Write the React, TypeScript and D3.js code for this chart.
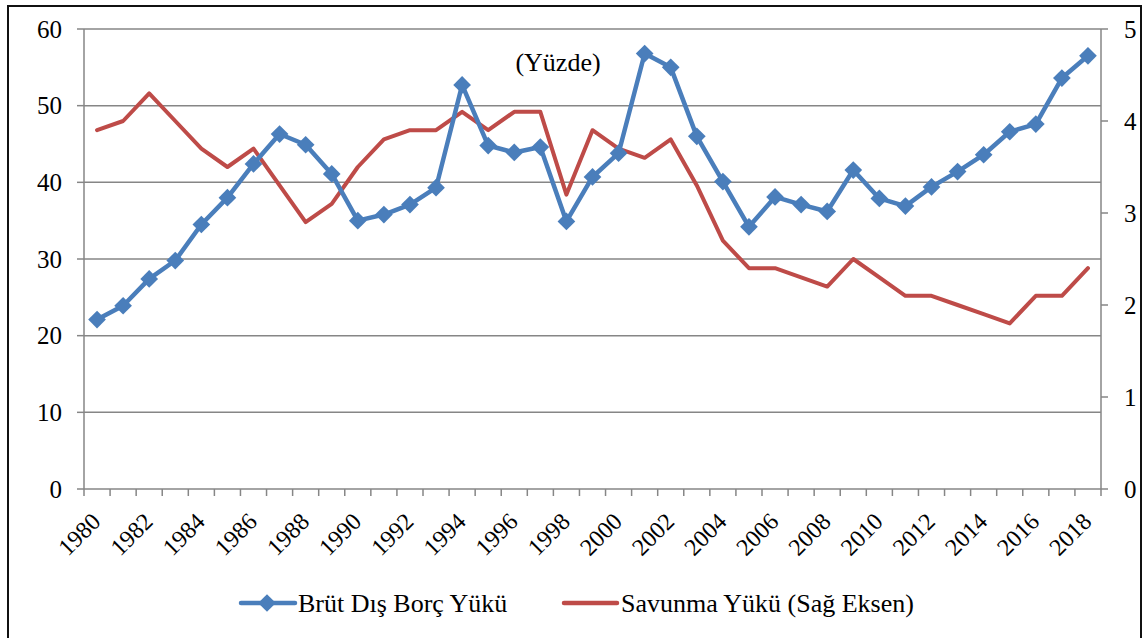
import { useRef, useEffect } from "react";
import * as d3 from "d3";

// Years on the category axis
const years = d3.range(1980, 2019).map(String);

// Brüt Dış Borç Yükü (left axis, %)
const debtValues = [
  22.1, 23.9, 27.4, 29.8, 34.5, 38.0, 42.4, 46.3, 44.9, 41.1,
  35.0, 35.8, 37.1, 39.3, 52.7, 44.8, 43.9, 44.6, 34.9, 40.7,
  43.8, 56.8, 55.0, 46.0, 40.1, 34.2, 38.1, 37.1, 36.2, 41.6,
  37.9, 36.9, 39.4, 41.4, 43.6, 46.6, 47.6, 53.6, 56.5,
];

// Savunma Yükü (right axis, %)
const defenseValues = [
  3.9, 4.0, 4.3, 4.0, 3.7, 3.5, 3.7, 3.3, 2.9, 3.1,
  3.5, 3.8, 3.9, 3.9, 4.1, 3.9, 4.1, 4.1, 3.2, 3.9,
  3.7, 3.6, 3.8, 3.3, 2.7, 2.4, 2.4, 2.3, 2.2, 2.5,
  2.3, 2.1, 2.1, 2.0, 1.9, 1.8, 2.1, 2.1, 2.4,
];

const leftTicks = [0, 10, 20, 30, 40, 50, 60];
const rightTicks = [0, 1, 2, 3, 4, 5];

const seriesNames = ["Brüt Dış Borç Yükü", "Savunma Yükü (Sağ Eksen)"];
const unitLabel = "(Yüzde)";

const App = () => {
  const svgRef = useRef<SVGSVGElement>(null);
  const width = 1143;
  const height = 638;
  const left = 84;
  const right = 1101;
  const top = 29;
  const bottom = 489;
  const blue = "#4a7ebb";
  const red = "#be4b48";
  const grey = "#868686";
  const font = "Liberation Serif, DejaVu Serif, serif";

  useEffect(() => {
    const svg = d3.select(svgRef.current);
    svg.selectAll("*").remove();

    const x = d3.scaleBand().domain(years).range([left, right]).padding(0);
    const cx = (d: string) => (x(d) as number) + x.bandwidth() / 2;
    const yL = d3.scaleLinear().domain([0, 60]).range([bottom, top]);
    const yR = d3.scaleLinear().domain([0, 5]).range([bottom, top]);

    // outer frame (bottom edge runs off the picture)
    svg.append("rect")
      .attr("x", 8).attr("y", 6)
      .attr("width", 1133).attr("height", 640)
      .attr("fill", "white")
      .attr("stroke", "#111")
      .attr("stroke-width", 2);

    // grid
    svg.selectAll(".grid")
      .data(leftTicks.filter(t => t > 0))
      .enter()
      .append("line")
      .attr("x1", left).attr("x2", right)
      .attr("y1", d => yL(d)).attr("y2", d => yL(d))
      .attr("stroke", grey).attr("stroke-width", 1.5);

    // left axis
    const gL = svg.append("g");
    gL.append("line")
      .attr("x1", left).attr("x2", left).attr("y1", top).attr("y2", bottom)
      .attr("stroke", grey).attr("stroke-width", 1.5);
    gL.selectAll("line.t").data(leftTicks).enter().append("line")
      .attr("class", "t")
      .attr("x1", left - 7).attr("x2", left)
      .attr("y1", d => yL(d)).attr("y2", d => yL(d))
      .attr("stroke", grey).attr("stroke-width", 1.5);
    gL.selectAll("text").data(leftTicks).enter().append("text")
      .attr("x", 62).attr("y", d => yL(d) + 8.5)
      .attr("text-anchor", "end")
      .style("font-family", font).style("font-size", "25px")
      .text(d => d);

    // right axis
    const gR = svg.append("g");
    gR.append("line")
      .attr("x1", right).attr("x2", right).attr("y1", top).attr("y2", bottom)
      .attr("stroke", grey).attr("stroke-width", 1.5);
    gR.selectAll("line.t").data(rightTicks).enter().append("line")
      .attr("class", "t")
      .attr("x1", right).attr("x2", right + 7)
      .attr("y1", d => yR(d)).attr("y2", d => yR(d))
      .attr("stroke", grey).attr("stroke-width", 1.5);
    gR.selectAll("text").data(rightTicks).enter().append("text")
      .attr("x", 1124).attr("y", d => yR(d) + 8.5)
      .attr("text-anchor", "start")
      .style("font-family", font).style("font-size", "25px")
      .text(d => d);

    // x axis
    const gX = svg.append("g");
    gX.append("line")
      .attr("x1", left).attr("x2", right).attr("y1", bottom).attr("y2", bottom)
      .attr("stroke", grey).attr("stroke-width", 1.5);
    const bounds = years.map(d => x(d) as number).concat([right]);
    gX.selectAll("line.t").data(bounds).enter().append("line")
      .attr("class", "t")
      .attr("x1", d => d).attr("x2", d => d)
      .attr("y1", bottom).attr("y2", bottom + 7)
      .attr("stroke", grey).attr("stroke-width", 1.5);
    gX.selectAll("text").data(years.filter((_, i) => i % 2 === 0)).enter().append("text")
      .attr("x", 0).attr("y", 0)
      .attr("transform", d => `translate(${cx(d) + 5},${bottom + 34}) rotate(-45)`)
      .attr("text-anchor", "end")
      .style("font-family", font).style("font-size", "24px")
      .text(d => d);

    // red line
    const lineR = d3.line<number>()
      .x((_, i) => cx(years[i]))
      .y(d => yR(d));
    svg.append("path")
      .datum(defenseValues)
      .attr("d", lineR)
      .attr("fill", "none")
      .attr("stroke", red)
      .attr("stroke-width", 4)
      .attr("stroke-linejoin", "round")
      .attr("stroke-linecap", "round");

    // blue line
    const lineL = d3.line<number>()
      .x((_, i) => cx(years[i]))
      .y(d => yL(d));
    svg.append("path")
      .datum(debtValues)
      .attr("d", lineL)
      .attr("fill", "none")
      .attr("stroke", blue)
      .attr("stroke-width", 4.5)
      .attr("stroke-linejoin", "round");

    const diamond = d3.symbol().type(d3.symbolDiamond2).size(200);
    svg.selectAll(".pt")
      .data(debtValues)
      .enter()
      .append("path")
      .attr("class", "pt")
      .attr("d", diamond)
      .attr("transform", (d, i) => `translate(${cx(years[i])},${yL(d)})`)
      .attr("fill", blue);

    // unit label
    svg.append("text")
      .attr("x", 558).attr("y", 71)
      .attr("text-anchor", "middle")
      .style("font-family", font).style("font-size", "26px")
      .text(unitLabel);

    // legend
    const lg = svg.append("g").style("font-family", font).style("font-size", "26px");
    lg.append("line")
      .attr("x1", 241).attr("x2", 295).attr("y1", 603).attr("y2", 603)
      .attr("stroke", blue).attr("stroke-width", 4.5).attr("stroke-linecap", "round");
    lg.append("path")
      .attr("d", diamond)
      .attr("transform", "translate(267,603)")
      .attr("fill", blue);
    lg.append("text").attr("x", 298).attr("y", 612).text(seriesNames[0]);
    lg.append("line")
      .attr("x1", 564).attr("x2", 617).attr("y1", 603).attr("y2", 603)
      .attr("stroke", red).attr("stroke-width", 4.5).attr("stroke-linecap", "round");
    lg.append("text").attr("x", 621).attr("y", 612).text(seriesNames[1]);
  }, []);

  return (
    <svg
      ref={svgRef}
      width={width}
      height={height}
      style={{ position: "absolute", left: 0, top: 0, background: "white" }}
    ></svg>
  );
};

export default App;
